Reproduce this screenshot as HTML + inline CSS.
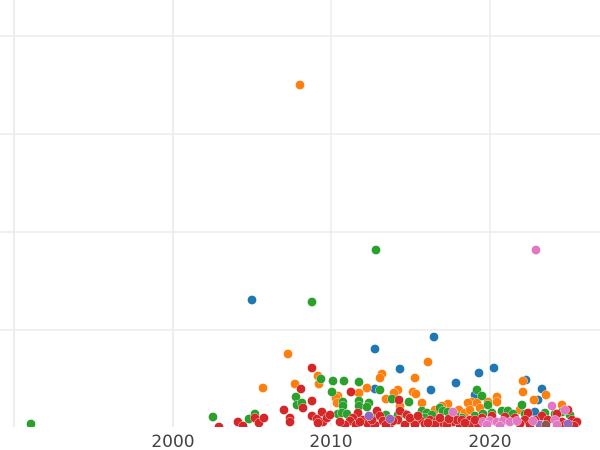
<!DOCTYPE html>
<html><head><meta charset="utf-8"><style>
html,body{margin:0;padding:0;background:#fff;}
svg{display:block;}
</style></head><body>
<svg width="600" height="450" viewBox="0 0 600 450" xmlns="http://www.w3.org/2000/svg">
<defs><clipPath id="c"><rect x="0" y="0" width="600" height="427"/></clipPath></defs>
<rect width="600" height="450" fill="#fff"/>
<g stroke="#ebebeb" stroke-width="1.4" clip-path="url(#c)">
<line x1="0" y1="36" x2="600" y2="36"/>
<line x1="0" y1="134" x2="600" y2="134"/>
<line x1="0" y1="232" x2="600" y2="232"/>
<line x1="0" y1="330" x2="600" y2="330"/>
<line x1="14" y1="0" x2="14" y2="427" stroke-width="1.8"/>
<line x1="173" y1="0" x2="173" y2="427" stroke-width="1.8"/>
<line x1="331" y1="0" x2="331" y2="427"/>
<line x1="490" y1="0" x2="490" y2="427"/>
</g>
<g clip-path="url(#c)" stroke="#fff" stroke-width="0.4">
<g fill="#1f77b4">
<circle cx="252" cy="300" r="4.6"/><circle cx="375" cy="349" r="4.6"/><circle cx="434" cy="337" r="4.6"/>
<circle cx="400" cy="369" r="4.6"/><circle cx="494" cy="368" r="4.6"/><circle cx="479" cy="373" r="4.6"/>
<circle cx="456" cy="383" r="4.6"/><circle cx="375" cy="389" r="4.6"/><circle cx="431" cy="390" r="4.6"/>
<circle cx="526" cy="380" r="4.6"/><circle cx="542" cy="389" r="4.6"/><circle cx="475" cy="395" r="4.6"/>
<circle cx="538" cy="400" r="4.6"/><circle cx="535" cy="412" r="4.6"/>
</g>
<g fill="#ff7f0e">
<circle cx="300" cy="85" r="4.6"/><circle cx="288" cy="354" r="4.6"/><circle cx="428" cy="362" r="4.6"/>
<circle cx="263" cy="388" r="4.6"/><circle cx="318" cy="376" r="4.6"/><circle cx="319" cy="384" r="4.6"/>
<circle cx="338" cy="396" r="4.6"/><circle cx="295" cy="384" r="4.6"/><circle cx="382" cy="374" r="4.6"/>
<circle cx="380" cy="378" r="4.6"/><circle cx="415" cy="378" r="4.6"/><circle cx="367" cy="388" r="4.6"/>
<circle cx="398" cy="390" r="4.6"/><circle cx="394" cy="393" r="4.6"/><circle cx="413" cy="392" r="4.6"/>
<circle cx="416" cy="394" r="4.6"/><circle cx="359" cy="393" r="4.6"/><circle cx="336" cy="398" r="4.6"/>
<circle cx="337" cy="403" r="4.6"/><circle cx="386" cy="399" r="4.6"/><circle cx="400" cy="406" r="4.6"/>
<circle cx="422" cy="403" r="4.6"/><circle cx="448" cy="404" r="4.6"/><circle cx="523" cy="381" r="4.6"/>
<circle cx="546" cy="395" r="4.6"/><circle cx="523" cy="392" r="4.6"/><circle cx="472" cy="402" r="4.6"/>
<circle cx="477" cy="403" r="4.6"/><circle cx="497" cy="397" r="4.6"/><circle cx="497" cy="402" r="4.6"/>
<circle cx="488" cy="402" r="4.6"/><circle cx="534" cy="400" r="4.6"/><circle cx="562" cy="405" r="4.6"/>
<circle cx="520" cy="410" r="4.6"/><circle cx="508" cy="411" r="4.6"/><circle cx="459" cy="410" r="4.6"/>
<circle cx="465" cy="413" r="4.6"/><circle cx="435" cy="410" r="4.6"/><circle cx="442" cy="406" r="4.6"/>
<circle cx="468" cy="403" r="4.6"/><circle cx="480" cy="408" r="4.6"/><circle cx="470" cy="410" r="4.6"/>
</g>
<g fill="#2ca02c">
<circle cx="31" cy="424" r="4.6"/><circle cx="213" cy="417" r="4.6"/><circle cx="376" cy="250" r="4.6"/>
<circle cx="312" cy="302" r="4.6"/><circle cx="321" cy="379" r="4.6"/><circle cx="333" cy="381" r="4.6"/>
<circle cx="332" cy="392" r="4.6"/><circle cx="296" cy="397" r="4.6"/><circle cx="297" cy="405" r="4.6"/>
<circle cx="302" cy="403" r="4.6"/><circle cx="249" cy="419" r="4.6"/><circle cx="255" cy="414" r="4.6"/>
<circle cx="338" cy="414" r="4.6"/><circle cx="344" cy="381" r="4.6"/><circle cx="359" cy="382" r="4.6"/>
<circle cx="380" cy="390" r="4.6"/><circle cx="343" cy="402" r="4.6"/><circle cx="343" cy="406" r="4.6"/>
<circle cx="359" cy="401" r="4.6"/><circle cx="359" cy="406" r="4.6"/><circle cx="369" cy="403" r="4.6"/>
<circle cx="367" cy="407" r="4.6"/><circle cx="392" cy="399" r="4.6"/><circle cx="409" cy="402" r="4.6"/>
<circle cx="440" cy="408" r="4.6"/><circle cx="342" cy="413" r="4.6"/><circle cx="347" cy="414" r="4.6"/>
<circle cx="477" cy="390" r="4.6"/><circle cx="482" cy="396" r="4.6"/><circle cx="488" cy="405" r="4.6"/>
<circle cx="522" cy="405" r="4.6"/><circle cx="422" cy="411" r="4.6"/><circle cx="427" cy="413" r="4.6"/>
<circle cx="432" cy="415" r="4.6"/><circle cx="443" cy="411" r="4.6"/><circle cx="448" cy="412" r="4.6"/>
<circle cx="462" cy="418" r="4.6"/><circle cx="492" cy="413" r="4.6"/><circle cx="502" cy="411" r="4.6"/>
<circle cx="508" cy="411" r="4.6"/><circle cx="513" cy="414" r="4.6"/><circle cx="525" cy="414" r="4.6"/>
<circle cx="545" cy="413" r="4.6"/><circle cx="555" cy="414" r="4.6"/><circle cx="562" cy="412" r="4.6"/>
<circle cx="570" cy="415" r="4.6"/><circle cx="398" cy="415" r="4.6"/><circle cx="405" cy="414" r="4.6"/>
<circle cx="376" cy="416" r="4.6"/><circle cx="386" cy="415" r="4.6"/><circle cx="425" cy="418" r="4.6"/>
<circle cx="455" cy="415" r="4.6"/><circle cx="475" cy="416" r="4.6"/><circle cx="483" cy="414" r="4.6"/>
</g>
<g fill="#d62728">
<circle cx="219" cy="427" r="4.6"/><circle cx="238" cy="422" r="4.6"/><circle cx="243" cy="426" r="4.6"/>
<circle cx="255" cy="418" r="4.6"/><circle cx="259" cy="423" r="4.6"/><circle cx="264" cy="418" r="4.6"/>
<circle cx="284" cy="410" r="4.6"/><circle cx="290" cy="418" r="4.6"/><circle cx="290" cy="422" r="4.6"/>
<circle cx="301" cy="389" r="4.6"/><circle cx="303" cy="408" r="4.6"/><circle cx="312" cy="401" r="4.6"/>
<circle cx="312" cy="368" r="4.6"/><circle cx="312" cy="416" r="4.6"/><circle cx="317" cy="419" r="4.6"/>
<circle cx="322" cy="412" r="4.6"/><circle cx="323" cy="422" r="4.6"/><circle cx="318" cy="423" r="4.6"/>
<circle cx="327" cy="418" r="4.6"/><circle cx="330" cy="415" r="4.6"/><circle cx="351" cy="392" r="4.6"/>
<circle cx="399" cy="400" r="4.6"/>
<circle cx="358" cy="413" r="4.6"/><circle cx="353" cy="418" r="4.6"/><circle cx="350" cy="421" r="4.6"/>
<circle cx="363" cy="420" r="4.6"/><circle cx="377" cy="411" r="4.6"/><circle cx="380" cy="416" r="4.6"/>
<circle cx="383" cy="421" r="4.6"/><circle cx="400" cy="411" r="4.6"/><circle cx="398" cy="420" r="4.6"/>
<circle cx="407" cy="415" r="4.6"/><circle cx="413" cy="421" r="4.6"/><circle cx="420" cy="420" r="4.6"/>
<circle cx="430" cy="420" r="4.6"/><circle cx="437" cy="421" r="4.6"/><circle cx="443" cy="423" r="4.6"/>
<circle cx="453" cy="422" r="4.6"/><circle cx="345" cy="425" r="4.6"/><circle cx="356" cy="425" r="4.6"/>
<circle cx="368" cy="424" r="4.6"/><circle cx="375" cy="425" r="4.6"/><circle cx="390" cy="424" r="4.6"/>
<circle cx="405" cy="425" r="4.6"/><circle cx="415" cy="425" r="4.6"/><circle cx="425" cy="424" r="4.6"/>
<circle cx="435" cy="425" r="4.6"/><circle cx="447" cy="425" r="4.6"/><circle cx="460" cy="425" r="4.6"/>
<circle cx="457" cy="420" r="4.6"/><circle cx="462" cy="420" r="4.6"/><circle cx="470" cy="420" r="4.6"/>
<circle cx="482" cy="418" r="4.6"/><circle cx="492" cy="416" r="4.6"/><circle cx="528" cy="413" r="4.6"/>
<circle cx="525" cy="420" r="4.6"/><circle cx="542" cy="416" r="4.6"/><circle cx="557" cy="414" r="4.6"/>
<circle cx="568" cy="410" r="4.6"/><circle cx="572" cy="420" r="4.6"/><circle cx="577" cy="422" r="4.6"/>
<circle cx="562" cy="422" r="4.6"/><circle cx="470" cy="425" r="4.6"/><circle cx="478" cy="424" r="4.6"/>
<circle cx="520" cy="424" r="4.6"/><circle cx="530" cy="425" r="4.6"/><circle cx="548" cy="420" r="4.6"/>
<circle cx="565" cy="425" r="4.6"/><circle cx="574" cy="426" r="4.6"/><circle cx="505" cy="417" r="4.6"/>
<circle cx="515" cy="418" r="4.6"/><circle cx="535" cy="420" r="4.6"/>
<circle cx="340" cy="422" r="4.6"/><circle cx="360" cy="422" r="4.6"/><circle cx="372" cy="420" r="4.6"/>
<circle cx="393" cy="421" r="4.6"/><circle cx="410" cy="418" r="4.6"/><circle cx="418" cy="416" r="4.6"/>
<circle cx="428" cy="423" r="4.6"/><circle cx="440" cy="418" r="4.6"/><circle cx="449" cy="419" r="4.6"/>
<circle cx="465" cy="423" r="4.6"/><circle cx="475" cy="420" r="4.6"/><circle cx="386" cy="425" r="4.6"/>
</g>
<g fill="#9467bd">
<circle cx="369" cy="416" r="4.6"/><circle cx="390" cy="419" r="4.6"/><circle cx="568" cy="424" r="4.6"/>
<circle cx="540" cy="425" r="4.6"/>
</g>
<g fill="#8c564b">
<circle cx="546" cy="425" r="4.6"/>
</g>
<g fill="#e377c2">
<circle cx="536" cy="250" r="4.6"/><circle cx="453" cy="412" r="4.6"/><circle cx="552" cy="406" r="4.6"/>
<circle cx="565" cy="410" r="4.6"/><circle cx="483" cy="422" r="4.6"/><circle cx="490" cy="421" r="4.6"/>
<circle cx="497" cy="422" r="4.6"/><circle cx="503" cy="421" r="4.6"/><circle cx="510" cy="422" r="4.6"/>
<circle cx="517" cy="421" r="4.6"/><circle cx="533" cy="421" r="4.6"/><circle cx="555" cy="420" r="4.6"/>
<circle cx="557" cy="425" r="4.6"/><circle cx="487" cy="425" r="4.6"/><circle cx="500" cy="426" r="4.6"/>
</g>
</g>
<g font-family="DejaVu Sans, 'Liberation Sans', sans-serif" font-size="17" fill="#444" text-anchor="middle">
<text x="173" y="447">2000</text>
<text x="331" y="447">2010</text>
<text x="490" y="447">2020</text>
</g>
</svg>
</body></html>
